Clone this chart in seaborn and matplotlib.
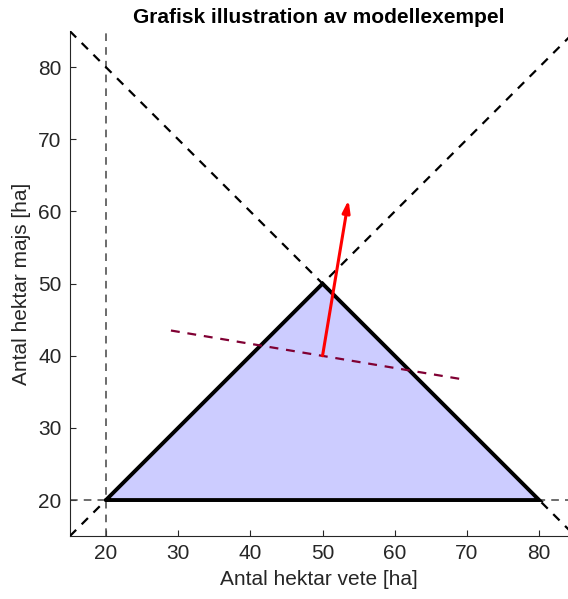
import numpy as np
import matplotlib
matplotlib.use("Agg")
import matplotlib.pyplot as plt
import seaborn as sns

# feasible region corners (vete, majs)
corner_x = [20, 50, 80, 20]
corner_y = [20, 50, 20, 20]

# constraint lines
vert_x = 20
horiz_y = 20
diag_up_x = [15, 85]
diag_up_y = [15, 85]
diag_down_x = [15, 85]
diag_down_y = [85, 15]

# objective level line and gradient arrow
level_x = [29, 69]
level_y = [43.5, 36.8]
arrow_start = (50, 40)
arrow_end = (53.6, 61.6)

x_ticks = [20, 30, 40, 50, 60, 70, 80]
y_ticks = [20, 30, 40, 50, 60, 70, 80]

sns.set_style("white")
plt.rcParams["font.family"] = ["Liberation Sans", "DejaVu Sans"]

fig = plt.figure(figsize=(5.68, 5.99), dpi=100)
ax = fig.add_axes([0.123, 0.105, 0.877, 0.843])

ax.fill(corner_x, corner_y, color="#ccccff", zorder=1)
ax.plot(corner_x, corner_y, color="black", linewidth=2.8, zorder=4, solid_joinstyle="miter")

ax.axvline(vert_x, color="#444444", linestyle=(0, (5, 4)), linewidth=1.1, zorder=2)
ax.axhline(horiz_y, color="#444444", linestyle=(0, (5, 4)), linewidth=1.1, zorder=2)
sns.lineplot(x=diag_up_x, y=diag_up_y, ax=ax, color="black", linestyle=(0, (4, 3.5)), linewidth=1.6, zorder=3)
sns.lineplot(x=diag_down_x, y=diag_down_y, ax=ax, color="black", linestyle=(0, (4, 3.5)), linewidth=1.6, zorder=3)
sns.lineplot(x=level_x, y=level_y, ax=ax, color="#800033", linestyle=(0, (4, 3.5)), linewidth=1.6, zorder=5)

ax.annotate("", xy=arrow_end, xytext=arrow_start,
            arrowprops=dict(arrowstyle="-|>,head_length=0.7,head_width=0.22",
                            color="red", linewidth=2.2, shrinkA=0, shrinkB=0),
            zorder=6)

ax.set_xlim(15, 84)
ax.set_ylim(15, 85)
ax.set_xticks(x_ticks)
ax.set_yticks(y_ticks)
ax.tick_params(bottom=True, left=True, direction="in", length=4, width=0.8,
               color="#262626", labelcolor="#262626", labelsize=15, pad=6)
for s in ["top", "right"]:
    ax.spines[s].set_visible(False)
for s in ["left", "bottom"]:
    ax.spines[s].set_color("#262626")
    ax.spines[s].set_linewidth(0.8)

ax.set_xlabel("Antal hektar vete [ha]", fontsize=15, color="#262626", labelpad=5)
ax.set_ylabel("Antal hektar majs [ha]", fontsize=15, color="#262626", labelpad=5)
ax.set_title("Grafisk illustration av modellexempel", fontsize=15, fontweight="bold",
             color="black", pad=6)

fig.savefig("out.png", dpi=100)
